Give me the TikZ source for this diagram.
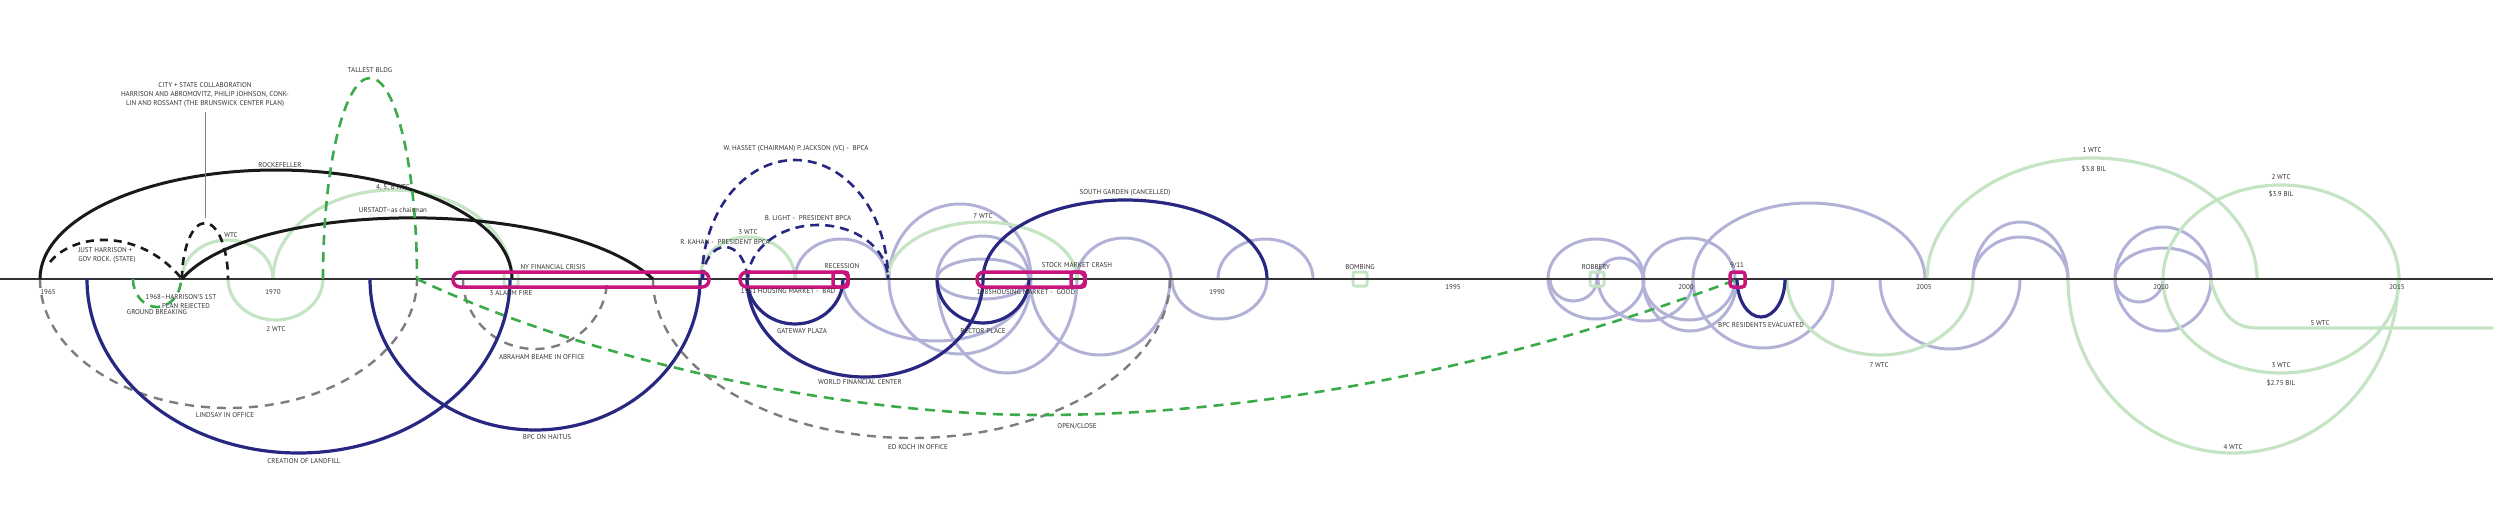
\documentclass[tikz,border=0pt]{standalone}
\usepackage{fontspec}
\setmainfont{PT Sans}
\definecolor{navyc}{RGB}{40,40,130}
\definecolor{lavc}{RGB}{178,178,216}
\definecolor{palec}{RGB}{196,228,196}
\definecolor{grnc}{RGB}{58,170,74}
\definecolor{gryc}{RGB}{125,125,125}
\definecolor{magc}{RGB}{200,20,125}
\definecolor{txtc}{RGB}{50,50,50}
\begin{document}
\begin{tikzpicture}[x=1pt,y=-1pt,
	lbl/.style={text=txtc,inner sep=0pt,font=\fontsize{7}{9}\selectfont,align=center},
	blk/.style={line width=3pt,black!90},
	blkdash/.style={line width=2.6pt,black!90,dash pattern=on 8pt off 6pt},
	navy/.style={line width=3.2pt,navyc},
	navydash/.style={line width=2.6pt,navyc,dash pattern=on 9pt off 6pt},
	lav/.style={line width=3pt,lavc},
	pale/.style={line width=3.2pt,palec},
	grndash/.style={line width=2.6pt,grnc,dash pattern=on 10pt off 7pt},
	grydash/.style={line width=2.4pt,gryc,dash pattern=on 9pt off 7pt},
	mag/.style={line width=3.5pt,magc,rounded corners=7pt},
	marker/.style={line width=3pt,palec,rounded corners=2pt}]
\useasboundingbox (0,0) rectangle (2500,519);

% lavender loops
\draw[lav] (795,279) arc[start angle=180,end angle=360,x radius=46,y radius=40];
\draw[lav] (842,279) arc[start angle=180,end angle=0,x radius=94,y radius=62];
\draw[lav] (960,279) ellipse[x radius=71,y radius=75];
\draw[lav] (983,279) ellipse[x radius=46,y radius=20];
\draw[lav] (937,279) arc[start angle=180,end angle=360,x radius=46,y radius=43];
\draw[lav] (937,279) arc[start angle=180,end angle=0,x radius=70,y radius=94];
\draw[lav] (1030,279) arc[start angle=180,end angle=0,x radius=70,y radius=76];
\draw[lav] (1077,279) arc[start angle=180,end angle=360,x radius=47,y radius=41];
\draw[lav] (1172,279) arc[start angle=180,end angle=0,x radius=47.5,y radius=40];
\draw[lav] (1218,279) arc[start angle=180,end angle=360,x radius=47.5,y radius=40];
\draw[lav] (1596,279) ellipse[x radius=48,y radius=40];
\draw[lav] (1550,279) arc[start angle=180,end angle=0,x radius=23.5,y radius=22];
\draw[lav] (1597,279) arc[start angle=180,end angle=360,x radius=23,y radius=21];
\draw[lav] (1598,279) arc[start angle=180,end angle=0,x radius=47.5,y radius=42];
\draw[lav] (1689,279) ellipse[x radius=46,y radius=41];
\draw[lav] (1643,279) arc[start angle=180,end angle=0,x radius=47,y radius=52];
\draw[lav] (1693,279) arc[start angle=180,end angle=360,x radius=116,y radius=76];
\draw[lav] (1693,279) arc[start angle=180,end angle=0,x radius=70,y radius=69];
\draw[lav] (1880,279) arc[start angle=180,end angle=0,x radius=70,y radius=70];
\draw[lav] (1973,279) arc[start angle=180,end angle=360,x radius=47.5,y radius=57];
\draw[lav] (1973,279) arc[start angle=180,end angle=360,x radius=47.5,y radius=42];
\draw[lav] (2163,279) ellipse[x radius=48,y radius=52];
\draw[lav] (2115,279) arc[start angle=180,end angle=360,x radius=48,y radius=31];
\draw[lav] (2115,279) arc[start angle=180,end angle=0,x radius=24,y radius=23];

% pale green buildings
\draw[pale] (182,279) arc[start angle=180,end angle=360,x radius=45.5,y radius=39];
\draw[pale] (228,279) arc[start angle=180,end angle=0,x radius=47.5,y radius=41];
\draw[pale] (273,279) arc[start angle=180,end angle=360,x radius=119.5,y radius=89];
\draw[pale] (700,279) arc[start angle=180,end angle=360,x radius=47.5,y radius=42];
\draw[pale] (888,279) arc[start angle=180,end angle=360,x radius=94.5,y radius=57];
\draw[pale] (1787,279) arc[start angle=180,end angle=0,x radius=93,y radius=76];
\draw[pale] (1927,279) arc[start angle=180,end angle=360,x radius=165,y radius=121];
\draw[pale] (2281,279) ellipse[x radius=118,y radius=94];
\draw[pale] (2068,279) arc[start angle=180,end angle=0,x radius=165,y radius=174];
\draw[pale] (2210,279) .. controls (2222,318) and (2236,328) .. (2258,328) -- (2493,328);
\draw[marker] (504,272) rectangle (518,286);
\draw[marker] (1353,272) rectangle (1367,286);
\draw[marker] (1590,272) rectangle (1604,286);

% office terms
\draw[grydash] (40,279) arc[start angle=180,end angle=0,x radius=188.5,y radius=129];
\draw[grydash] (463,279) arc[start angle=180,end angle=0,x radius=72,y radius=70];
\draw[grydash] (653,279) arc[start angle=180,end angle=0,x radius=258.5,y radius=159];

% axis
\draw[line width=1.2pt,black!80] (0,279) -- (2493,279);

% black
\draw[blk] (40,279) arc[start angle=180,end angle=360,x radius=236,y radius=109];
\draw[blk] (182,279) .. controls (250,200) and (560,195) .. (653,279);
\draw[blkdash] (50,262) .. controls (75,232) and (140,228) .. (182,279);
\draw[blkdash] (182,279) arc[start angle=180,end angle=360,x radius=23,y radius=56];
\draw[line width=1pt,gryc] (205,112) -- (205,218);

% green dashed
\draw[grndash] (323,279) arc[start angle=180,end angle=360,x radius=47,y radius=201];
\draw[grndash] (133,279) arc[start angle=180,end angle=0,x radius=24,y radius=28];
\draw[grndash] (417,279) .. controls (600,365) and (850,415) .. (1040,415)
	.. controls (1300,415) and (1550,350) .. (1738,279);

% navy
\draw[navy] (87,279) arc[start angle=180,end angle=0,x radius=211.5,y radius=174];
\draw[navy] (370,279) arc[start angle=180,end angle=0,x radius=165,y radius=151];
\draw[navy] (747,279) arc[start angle=180,end angle=0,x radius=48,y radius=45];
\draw[navy] (747,279) arc[start angle=180,end angle=0,x radius=118,y radius=98];
\draw[navy] (983,279) arc[start angle=180,end angle=360,x radius=142,y radius=79];
\draw[navy] (937,279) arc[start angle=180,end angle=0,x radius=46,y radius=44];
\draw[navy] (1737,279) arc[start angle=180,end angle=0,x radius=24,y radius=38];
\draw[navydash] (702,279) arc[start angle=180,end angle=360,x radius=93,y radius=119];
\draw[navydash] (748,279) arc[start angle=180,end angle=360,x radius=70,y radius=54];
\draw[navydash] (703,279) arc[start angle=180,end angle=360,x radius=22,y radius=32];

% magenta events
\draw[mag] (453,272) rectangle (709,287);
\draw[mag] (740,272) rectangle (848,287);
\draw[mag,rounded corners=3pt] (833,272) rectangle (848,287);
\draw[mag] (977,272) rectangle (1085,287);
\draw[mag,rounded corners=3pt] (1071,272) rectangle (1085,287);
\draw[mag,rounded corners=3pt] (1730,272) rectangle (1745,287);

% years
\node[lbl] at (48,292) (y65) {1965};
\node[lbl] at (273,292) (y70) {1970};
\node[lbl] at (1217,292) (y90) {1990};
\node[lbl] at (1453,287) (y95) {1995};
\node[lbl] at (1686,287) (y00) {2000};
\node[lbl] at (1924,287) (y05) {2005};
\node[lbl] at (2161,287) (y10) {2010};
\node[lbl] at (2397,287) (y15) {2015};

% labels
\node[lbl] at (370,70) (tallest) {TALLEST BLDG};
\node[lbl] at (205,95) (cityplan) {CITY + STATE COLLABORATION\\HARRISON AND ABROMOVITZ, PHILIP JOHNSON, CONK-\\LIN AND ROSSANT (THE BRUNSWICK CENTER PLAN)};
\node[lbl] at (280,165) (rockefeller) {ROCKEFELLER};
\node[lbl] at (393,188) (wtc456) {4, 5, 6 WTC};
\node[lbl] at (393,210) (urstadt) {URSTADT--as chairman};
\node[lbl] at (231,235) (wtc) {WTC};
\node[lbl,align=left] at (107,255) (harrison) {JUST HARRISON +\\GOV ROCK. (STATE)};
\node[lbl] at (181,297) (rejected) {1968--HARRISON'S 1ST};
\node[lbl] at (186,306) (rejected2) {PLAN REJECTED};
\node[lbl] at (157,312) (ground) {GROUND BREAKING};
\node[lbl] at (276,329) (wtc2a) {2 WTC};
\node[lbl] at (225,415) (lindsay) {LINDSAY IN OFFICE};
\node[lbl] at (304,461) (landfill) {CREATION OF LANDFILL};
\node[lbl] at (553,267) (nycrisis) {NY FINANCIAL CRISIS};
\node[lbl] at (511,293) (alarm) {3 ALARM FIRE};
\node[lbl] at (542,357) (beame) {ABRAHAM BEAME IN OFFICE};
\node[lbl] at (547,437) (haitus) {BPC ON HAITUS};
\node[lbl] at (796,149) (hasset) {W. HASSET (CHAIRMAN) P. JACKSON (VC) -\ \ BPCA};
\node[lbl] at (808,218) (light) {B. LIGHT -\ \ PRESIDENT BPCA};
\node[lbl] at (748,232) (wtc3a) {3 WTC};
\node[lbl] at (725,242) (kahan) {R. KAHAN -\ \ PRESIDENT BPCA};
\node[lbl] at (842,266) (recession) {RECESSION};
\node[lbl] at (788,291) (housebad) {1981 HOUSING MARKET -\ \ BAD};
\node[lbl] at (802,331) (gateway) {GATEWAY PLAZA};
\node[lbl] at (860,382) (wfc) {WORLD FINANCIAL CENTER};
\node[lbl] at (983,216) (wtc7a) {7 WTC};
\node[lbl] at (1125,193) (southgarden) {SOUTH GARDEN (CANCELLED)};
\node[lbl] at (1077,265) (crash) {STOCK MARKET CRASH};
\node[lbl] at (1026,292) (housegood) {1985HOUSING MARKET -\ \ GOOD};
\node[lbl] at (983,331) (rector) {RECTOR PLACE};
\node[lbl] at (1077,426) (openclose) {OPEN/CLOSE};
\node[lbl] at (918,447) (koch) {ED KOCH IN OFFICE};
\node[lbl] at (1360,267) (bombing) {BOMBING};
\node[lbl] at (1596,267) (robbery) {ROBBERY};
\node[lbl] at (1737,265) (nineeleven) {9/11};
\node[lbl] at (1761,325) (evacuated) {BPC RESIDENTS EVACUATED};
\node[lbl] at (1879,365) (wtc7b) {7 WTC};
\node[lbl] at (2092,150) (wtc1) {1 WTC};
\node[lbl] at (2094,169) (cost1) {\$3.8 BIL};
\node[lbl] at (2281,177) (wtc2b) {2 WTC};
\node[lbl] at (2281,194) (cost2) {\$3.9 BIL};
\node[lbl] at (2320,323) (wtc5) {5 WTC};
\node[lbl] at (2281,365) (wtc3b) {3 WTC};
\node[lbl] at (2281,383) (cost3) {\$2.75 BIL};
\node[lbl] at (2233,447) (wtc4) {4 WTC};
\end{tikzpicture}
\end{document}
